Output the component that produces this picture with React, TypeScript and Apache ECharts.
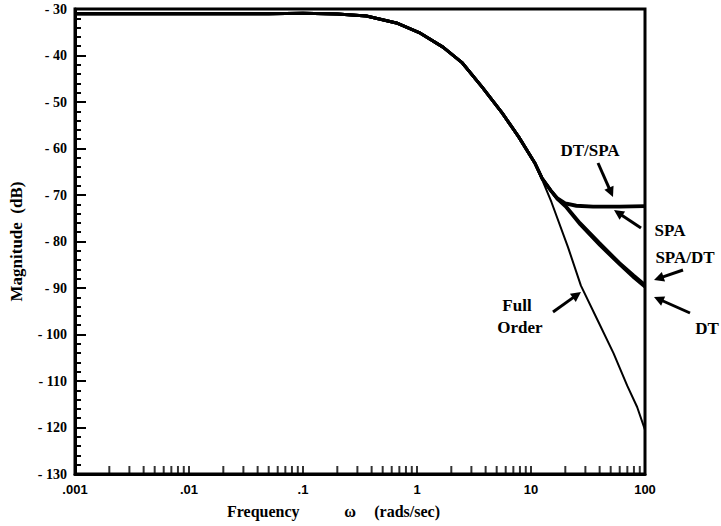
import React, { useEffect, useRef } from "react";
import * as echarts from "echarts";

// Shared low-frequency portion (all models coincide)
const sharedFreq = [0.001, 0.01, 0.05, 0.1, 0.2, 0.36, 0.66, 1.07, 1.69, 2.5, 3.73, 5.6, 7.8, 10.8];
const sharedDb = [-31, -31, -31, -30.9, -31.1, -31.5, -33.0, -35.2, -38.2, -41.6, -46.8, -52.4, -57.5, -63.1];

const fullFreq = [12, 15.1, 21.1, 27.4, 38.5, 52.9, 69.8, 85.3, 100];
const fullDb = [-65.6, -71.5, -81.2, -89.5, -97, -104, -111, -115.6, -120.5];

const dtSpaFreq = [12.5, 15, 17, 20, 25, 35, 60, 100];
const dtSpaDb = [-66.3, -69.0, -70.6, -71.7, -72.2, -72.4, -72.4, -72.3];

const spaFreq = [12.5, 15, 17, 20, 25, 35, 60, 100];
const spaDb = [-66.4, -69.1, -70.8, -71.9, -72.4, -72.6, -72.6, -72.5];

const spaDtFreq = [12.5, 15, 17, 20, 27, 40, 60, 80, 100];
const spaDtDb = [-66.4, -69.1, -70.8, -72.2, -76.0, -80.3, -84.6, -87.3, -89.3];

const dtFreq = [12.5, 15, 17, 20, 27, 40, 60, 80, 100];
const dtDb = [-66.5, -69.2, -70.9, -72.5, -76.4, -80.8, -85.0, -87.8, -89.8];

const xTickLabels = [".001", ".01", ".1", "1", "10", "100"];
const decades = [0.001, 0.01, 0.1, 1, 10];
const minorMultipliers = [2, 3, 4, 5, 6, 7, 8, 9, 10];

const serif = "'Liberation Serif', 'Times New Roman', serif";
const sans = "'Liberation Sans', Arial, sans-serif";

function join(fx: number[], fy: number[]) {
  const out: number[][] = sharedFreq.map((f, i) => [f, sharedDb[i]]);
  fx.forEach((f, i) => out.push([f, fy[i]]));
  return out;
}

function arrow(x1: number, y1: number, x2: number, y2: number) {
  const dx = x2 - x1;
  const dy = y2 - y1;
  const len = Math.sqrt(dx * dx + dy * dy);
  const ux = dx / len;
  const uy = dy / len;
  const hl = 10;
  const hw = 5;
  const bx = x2 - ux * hl;
  const by = y2 - uy * hl;
  return {
    type: "group",
    children: [
      {
        type: "line",
        shape: { x1, y1, x2: bx + ux * 2, y2: by + uy * 2 },
        style: { stroke: "#000", lineWidth: 3 },
      },
      {
        type: "polygon",
        shape: {
          points: [
            [x2, y2],
            [bx - uy * hw, by + ux * hw],
            [bx + uy * hw, by - ux * hw],
          ],
        },
        style: { fill: "#000" },
      },
    ],
  };
}

function label(text: string, x: number, y: number, size = 17) {
  return {
    type: "text",
    x,
    y,
    style: {
      text,
      font: `bold ${size}px ${serif}`,
      fill: "#000",
      textAlign: "center",
      textVerticalAlign: "middle",
    },
  };
}

export default function App() {
  const ref = useRef<HTMLDivElement>(null);
  useEffect(() => {
    if (!ref.current) return;
    document.body.style.margin = "0";
    const chart = echarts.init(ref.current, null, { renderer: "svg" });
    const tickData: number[][] = [];
    decades.forEach((d) => minorMultipliers.forEach((m) => tickData.push([d * m, -130])));
    const lineBase = {
      type: "line",
      showSymbol: false,
      symbol: "none",
      smooth: false,
      silent: true,
    };
    chart.setOption({
      animation: false,
      backgroundColor: "#fff",
      grid: {
        left: 67,
        right: 76,
        top: 9,
        bottom: 52,
        show: true,
        borderColor: "#000",
        borderWidth: 3,
      },
      xAxis: {
        type: "log",
        logBase: 10,
        min: 0.001,
        max: 100,
        axisLine: { show: true, lineStyle: { color: "#000", width: 3 } },
        axisTick: { show: false },
        splitLine: { show: false },
        axisLabel: {
          color: "#000",
          fontFamily: sans,
          fontWeight: "bold",
          fontSize: 13,
          margin: 9,
          formatter: (v: number) => xTickLabels[Math.round(Math.log10(v)) + 3] ?? "",
        },
      },
      yAxis: {
        type: "value",
        min: -130,
        max: -30,
        interval: 10,
        name: "Magnitude  (dB)",
        nameLocation: "middle",
        nameGap: 50,
        nameRotate: 90,
        nameTextStyle: { color: "#000", fontFamily: serif, fontWeight: "bold", fontSize: 17 },
        axisLine: { show: true, lineStyle: { color: "#000", width: 3 } },
        axisTick: { show: true, inside: true, length: 11, lineStyle: { color: "#000", width: 2 } },
        minorTick: { show: true, splitNumber: 5, length: 6, lineStyle: { color: "#000", width: 2 } },
        splitLine: { show: false },
        axisLabel: {
          color: "#000",
          fontFamily: serif,
          fontWeight: "bold",
          fontSize: 14,
          margin: 8,
          formatter: (v: number) => "- " + Math.abs(v),
        },
      },
      graphic: [
        {
          type: "text",
          x: 227,
          y: 511,
          style: { text: "Frequency", font: `bold 16px ${serif}`, fill: "#000", textVerticalAlign: "middle" },
        },
        {
          type: "text",
          x: 350,
          y: 511,
          style: { text: "ω", font: `bold 16px ${serif}`, fill: "#000", textAlign: "center", textVerticalAlign: "middle" },
        },
        {
          type: "text",
          x: 440,
          y: 511,
          style: { text: "(rads/sec)", font: `bold 16px ${serif}`, fill: "#000", textAlign: "right", textVerticalAlign: "middle" },
        },
        label("DT/SPA", 590, 150),
        label("SPA", 670, 230),
        label("SPA/DT", 685, 257),
        label("DT", 707, 328),
        label("Full", 517, 305),
        label("Order", 520, 327),
        arrow(598, 163, 613, 197),
        arrow(641, 228, 614, 210),
        arrow(683, 270, 654, 280),
        arrow(690, 313, 654, 297),
        arrow(553, 312, 581, 292),
      ],
      series: [
        { ...lineBase, name: "Full Order", data: join(fullFreq, fullDb), lineStyle: { color: "#000", width: 2 } },
        { ...lineBase, name: "DT/SPA", data: join(dtSpaFreq, dtSpaDb), lineStyle: { color: "#000", width: 3 } },
        { ...lineBase, name: "SPA", data: join(spaFreq, spaDb), lineStyle: { color: "#000", width: 3 } },
        { ...lineBase, name: "SPA/DT", data: join(spaDtFreq, spaDtDb), lineStyle: { color: "#000", width: 3 } },
        { ...lineBase, name: "DT", data: join(dtFreq, dtDb), lineStyle: { color: "#000", width: 3 } },
        {
          type: "scatter",
          name: "ticks",
          data: tickData,
          symbol: "rect",
          symbolSize: [2, 8],
          symbolOffset: [0, -4],
          itemStyle: { color: "#000" },
          silent: true,
          clip: false,
        },
      ],
    });
    return () => chart.dispose();
  }, []);
  return <div ref={ref} style={{ width: 721, height: 526 }} />;
}
